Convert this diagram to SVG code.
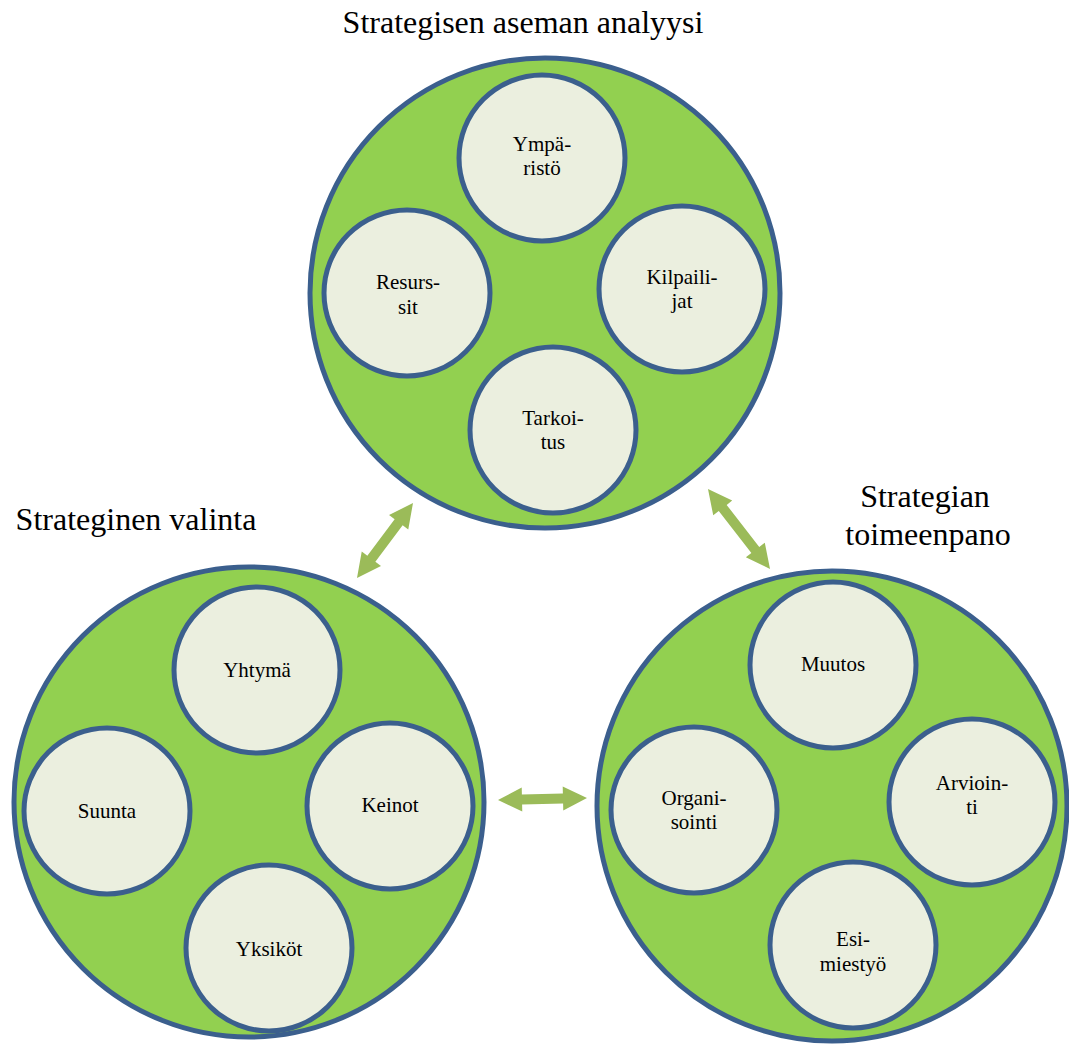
<svg xmlns="http://www.w3.org/2000/svg" width="1069" height="1045" viewBox="0 0 1069 1045">
  <style>
    .outer { fill: #92D050; stroke: #3B5F8D; stroke-width: 5; }
    .inner { fill: #EBEFDF; stroke: #3B5F8D; stroke-width: 5; }
    text { font-family: 'Liberation Serif', 'DejaVu Serif', serif; fill: #000; text-anchor: middle; }
    .lbl { font-size: 21px; }
    .title { font-size: 32px; }
    .arrow { fill: #9BBB59; }
  </style>
  <rect width="1069" height="1045" fill="#ffffff"/>

  <!-- section headings -->
  <text class="title" x="523" y="33">Strategisen aseman analyysi</text>
  <text class="title" x="136" y="530">Strateginen valinta</text>
  <text class="title" x="925" y="507">Strategian</text>
  <text class="title" x="928" y="545">toimeenpano</text>

  <!-- Strategic position analysis -->
  <g id="analyysi">
    <circle class="outer" cx="545" cy="293" r="235"/>
    <g id="ymparisto">
      <circle class="inner" cx="542" cy="158" r="83"/>
      <text class="lbl" x="542" y="151">Ympä-</text>
      <text class="lbl" x="542" y="175">ristö</text>
    </g>
    <g id="resurssit">
      <circle class="inner" cx="407" cy="293" r="83"/>
      <text class="lbl" x="408" y="289">Resurs-</text>
      <text class="lbl" x="408" y="314">sit</text>
    </g>
    <g id="kilpailijat">
      <circle class="inner" cx="682" cy="289" r="83"/>
      <text class="lbl" x="682" y="284">Kilpaili-</text>
      <text class="lbl" x="682" y="308">jat</text>
    </g>
    <g id="tarkoitus">
      <circle class="inner" cx="553" cy="430" r="83"/>
      <text class="lbl" x="553" y="425">Tarkoi-</text>
      <text class="lbl" x="553" y="449">tus</text>
    </g>
  </g>

  <!-- Strategic choice -->
  <g id="valinta">
    <circle class="outer" cx="249" cy="802" r="235"/>
    <g id="yhtyma">
      <circle class="inner" cx="257" cy="670" r="83"/>
      <text class="lbl" x="257" y="677">Yhtymä</text>
    </g>
    <g id="suunta">
      <circle class="inner" cx="107" cy="811" r="83"/>
      <text class="lbl" x="107" y="818">Suunta</text>
    </g>
    <g id="keinot">
      <circle class="inner" cx="390" cy="806" r="83"/>
      <text class="lbl" x="390" y="812">Keinot</text>
    </g>
    <g id="yksikot">
      <circle class="inner" cx="269" cy="948" r="83"/>
      <text class="lbl" x="269" y="956">Yksiköt</text>
    </g>
  </g>

  <!-- Strategy implementation -->
  <g id="toimeenpano">
    <circle class="outer" cx="832" cy="806" r="235"/>
    <g id="muutos">
      <circle class="inner" cx="833" cy="665" r="83"/>
      <text class="lbl" x="833" y="671">Muutos</text>
    </g>
    <g id="organisointi">
      <circle class="inner" cx="694" cy="810" r="83"/>
      <text class="lbl" x="694" y="805">Organi-</text>
      <text class="lbl" x="694" y="829">sointi</text>
    </g>
    <g id="arviointi">
      <circle class="inner" cx="972" cy="802" r="83"/>
      <text class="lbl" x="972" y="790">Arvioin-</text>
      <text class="lbl" x="972" y="814">ti</text>
    </g>
    <g id="esimiestyo">
      <circle class="inner" cx="853" cy="945" r="83"/>
      <text class="lbl" x="853" y="946">Esi-</text>
      <text class="lbl" x="853" y="971">miestyö</text>
    </g>
  </g>

  <!-- two-way block arrows between the phases -->
  <g id="connectors">
    <path class="arrow" transform="translate(357,578) rotate(-53.25)"
          d="M0,0 L24,-12 L24,-5 L69.6,-5 L69.6,-12 L93.6,0 L69.6,12 L69.6,5 L24,5 L24,12 Z"/>
    <path class="arrow" transform="translate(708,489) rotate(52.2)"
          d="M0,0 L24,-12 L24,-5 L77.2,-5 L77.2,-12 L101.2,0 L77.2,12 L77.2,5 L24,5 L24,12 Z"/>
    <path class="arrow" transform="translate(498,800) rotate(-1.3)"
          d="M0,0 L24,-12 L24,-5 L65,-5 L65,-12 L89,0 L65,12 L65,5 L24,5 L24,12 Z"/>
  </g>
</svg>
